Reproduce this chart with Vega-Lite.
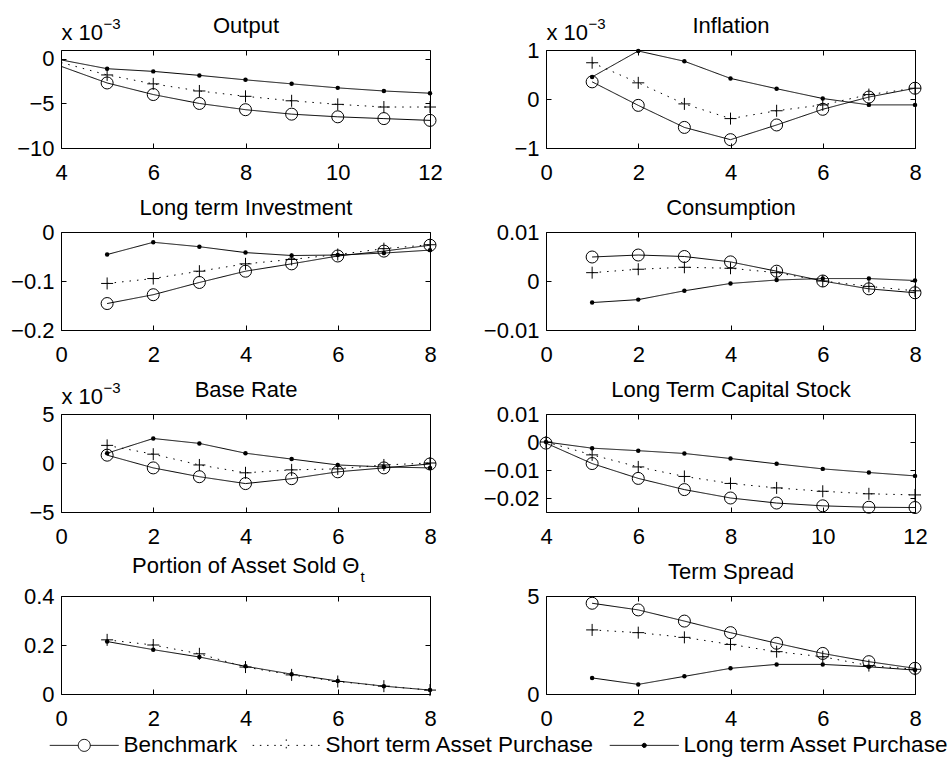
{
  "$schema": "https://vega.github.io/schema/vega-lite/v6.json",
  "padding": {"left": 10, "top": 13, "right": 0, "bottom": 0},
  "data": {"values": [
    {"panel": "Output", "x": 4, "Benchmark": -0.00083, "Short term Asset Purchase": -0.0004, "Long term Asset Purchase": -0.00011},
    {"panel": "Output", "x": 5, "Benchmark": -0.0027, "Short term Asset Purchase": -0.0018, "Long term Asset Purchase": -0.0011},
    {"panel": "Output", "x": 6, "Benchmark": -0.0040, "Short term Asset Purchase": -0.0028, "Long term Asset Purchase": -0.0014},
    {"panel": "Output", "x": 7, "Benchmark": -0.0050, "Short term Asset Purchase": -0.0036, "Long term Asset Purchase": -0.00185},
    {"panel": "Output", "x": 8, "Benchmark": -0.0057, "Short term Asset Purchase": -0.0042, "Long term Asset Purchase": -0.00235},
    {"panel": "Output", "x": 9, "Benchmark": -0.0062, "Short term Asset Purchase": -0.0047, "Long term Asset Purchase": -0.0028},
    {"panel": "Output", "x": 10, "Benchmark": -0.0065, "Short term Asset Purchase": -0.0051, "Long term Asset Purchase": -0.00325},
    {"panel": "Output", "x": 11, "Benchmark": -0.0067, "Short term Asset Purchase": -0.0054, "Long term Asset Purchase": -0.0036},
    {"panel": "Output", "x": 12, "Benchmark": -0.0069, "Short term Asset Purchase": -0.0054, "Long term Asset Purchase": -0.00385},

    {"panel": "Inflation", "x": 1, "Benchmark": 0.00035, "Short term Asset Purchase": 0.00074, "Long term Asset Purchase": 0.00045},
    {"panel": "Inflation", "x": 2, "Benchmark": -0.00013, "Short term Asset Purchase": 0.00033, "Long term Asset Purchase": 0.00098},
    {"panel": "Inflation", "x": 3, "Benchmark": -0.00058, "Short term Asset Purchase": -0.0001, "Long term Asset Purchase": 0.00077},
    {"panel": "Inflation", "x": 4, "Benchmark": -0.00083, "Short term Asset Purchase": -0.0004, "Long term Asset Purchase": 0.00042},
    {"panel": "Inflation", "x": 5, "Benchmark": -0.00053, "Short term Asset Purchase": -0.00024, "Long term Asset Purchase": 0.00021},
    {"panel": "Inflation", "x": 6, "Benchmark": -0.00021, "Short term Asset Purchase": -0.00012, "Long term Asset Purchase": 0.00001},
    {"panel": "Inflation", "x": 7, "Benchmark": 0.00004, "Short term Asset Purchase": 0.00009, "Long term Asset Purchase": -0.00012},
    {"panel": "Inflation", "x": 8, "Benchmark": 0.00022, "Short term Asset Purchase": 0.00022, "Long term Asset Purchase": -0.00012},

    {"panel": "Investment", "x": 1, "Benchmark": -0.146, "Short term Asset Purchase": -0.105, "Long term Asset Purchase": -0.046},
    {"panel": "Investment", "x": 2, "Benchmark": -0.128, "Short term Asset Purchase": -0.095, "Long term Asset Purchase": -0.021},
    {"panel": "Investment", "x": 3, "Benchmark": -0.103, "Short term Asset Purchase": -0.080, "Long term Asset Purchase": -0.030},
    {"panel": "Investment", "x": 4, "Benchmark": -0.080, "Short term Asset Purchase": -0.065, "Long term Asset Purchase": -0.042},
    {"panel": "Investment", "x": 5, "Benchmark": -0.065, "Short term Asset Purchase": -0.056, "Long term Asset Purchase": -0.048},
    {"panel": "Investment", "x": 6, "Benchmark": -0.049, "Short term Asset Purchase": -0.046, "Long term Asset Purchase": -0.047},
    {"panel": "Investment", "x": 7, "Benchmark": -0.039, "Short term Asset Purchase": -0.034, "Long term Asset Purchase": -0.043},
    {"panel": "Investment", "x": 8, "Benchmark": -0.027, "Short term Asset Purchase": -0.026, "Long term Asset Purchase": -0.037},

    {"panel": "Consumption", "x": 1, "Benchmark": 0.0049, "Short term Asset Purchase": 0.0017, "Long term Asset Purchase": -0.0044},
    {"panel": "Consumption", "x": 2, "Benchmark": 0.0053, "Short term Asset Purchase": 0.0024, "Long term Asset Purchase": -0.0038},
    {"panel": "Consumption", "x": 3, "Benchmark": 0.0050, "Short term Asset Purchase": 0.0028, "Long term Asset Purchase": -0.0020},
    {"panel": "Consumption", "x": 4, "Benchmark": 0.0039, "Short term Asset Purchase": 0.0026, "Long term Asset Purchase": -0.0005},
    {"panel": "Consumption", "x": 5, "Benchmark": 0.0020, "Short term Asset Purchase": 0.0017, "Long term Asset Purchase": 0.0002},
    {"panel": "Consumption", "x": 6, "Benchmark": 0.0000, "Short term Asset Purchase": 0.0000, "Long term Asset Purchase": 0.0005},
    {"panel": "Consumption", "x": 7, "Benchmark": -0.0016, "Short term Asset Purchase": -0.0011, "Long term Asset Purchase": 0.0005},
    {"panel": "Consumption", "x": 8, "Benchmark": -0.0024, "Short term Asset Purchase": -0.0020, "Long term Asset Purchase": 0.0001},

    {"panel": "Base Rate", "x": 1, "Benchmark": 0.0008, "Short term Asset Purchase": 0.0018, "Long term Asset Purchase": 0.0010},
    {"panel": "Base Rate", "x": 2, "Benchmark": -0.0005, "Short term Asset Purchase": 0.0009, "Long term Asset Purchase": 0.0025},
    {"panel": "Base Rate", "x": 3, "Benchmark": -0.0014, "Short term Asset Purchase": -0.0002, "Long term Asset Purchase": 0.0020},
    {"panel": "Base Rate", "x": 4, "Benchmark": -0.0021, "Short term Asset Purchase": -0.0010, "Long term Asset Purchase": 0.0010},
    {"panel": "Base Rate", "x": 5, "Benchmark": -0.0016, "Short term Asset Purchase": -0.0007, "Long term Asset Purchase": 0.0004},
    {"panel": "Base Rate", "x": 6, "Benchmark": -0.0009, "Short term Asset Purchase": -0.0006, "Long term Asset Purchase": -0.0002},
    {"panel": "Base Rate", "x": 7, "Benchmark": -0.0005, "Short term Asset Purchase": -0.0002, "Long term Asset Purchase": -0.0004},
    {"panel": "Base Rate", "x": 8, "Benchmark": -0.0001, "Short term Asset Purchase": 0.0000, "Long term Asset Purchase": -0.0005},

    {"panel": "Capital", "x": 4, "Benchmark": -0.0004, "Short term Asset Purchase": 0.0, "Long term Asset Purchase": 0.0},
    {"panel": "Capital", "x": 5, "Benchmark": -0.0077, "Short term Asset Purchase": -0.0046, "Long term Asset Purchase": -0.0022},
    {"panel": "Capital", "x": 6, "Benchmark": -0.0130, "Short term Asset Purchase": -0.0089, "Long term Asset Purchase": -0.0031},
    {"panel": "Capital", "x": 7, "Benchmark": -0.0170, "Short term Asset Purchase": -0.0123, "Long term Asset Purchase": -0.0041},
    {"panel": "Capital", "x": 8, "Benchmark": -0.0200, "Short term Asset Purchase": -0.0148, "Long term Asset Purchase": -0.0059},
    {"panel": "Capital", "x": 9, "Benchmark": -0.0218, "Short term Asset Purchase": -0.0164, "Long term Asset Purchase": -0.0078},
    {"panel": "Capital", "x": 10, "Benchmark": -0.0228, "Short term Asset Purchase": -0.0176, "Long term Asset Purchase": -0.0096},
    {"panel": "Capital", "x": 11, "Benchmark": -0.0233, "Short term Asset Purchase": -0.0185, "Long term Asset Purchase": -0.0109},
    {"panel": "Capital", "x": 12, "Benchmark": -0.0234, "Short term Asset Purchase": -0.0189, "Long term Asset Purchase": -0.0121},

    {"panel": "Portion", "x": 1, "Benchmark": null, "Short term Asset Purchase": 0.221, "Long term Asset Purchase": 0.214},
    {"panel": "Portion", "x": 2, "Benchmark": null, "Short term Asset Purchase": 0.200, "Long term Asset Purchase": 0.181},
    {"panel": "Portion", "x": 3, "Benchmark": null, "Short term Asset Purchase": 0.164, "Long term Asset Purchase": 0.151},
    {"panel": "Portion", "x": 4, "Benchmark": null, "Short term Asset Purchase": 0.110, "Long term Asset Purchase": 0.113},
    {"panel": "Portion", "x": 5, "Benchmark": null, "Short term Asset Purchase": 0.078, "Long term Asset Purchase": 0.081},
    {"panel": "Portion", "x": 6, "Benchmark": null, "Short term Asset Purchase": 0.051, "Long term Asset Purchase": 0.053},
    {"panel": "Portion", "x": 7, "Benchmark": null, "Short term Asset Purchase": 0.032, "Long term Asset Purchase": 0.032},
    {"panel": "Portion", "x": 8, "Benchmark": null, "Short term Asset Purchase": 0.016, "Long term Asset Purchase": 0.016},

    {"panel": "Term Spread", "x": 1, "Benchmark": 4.63, "Short term Asset Purchase": 3.27, "Long term Asset Purchase": 0.82},
    {"panel": "Term Spread", "x": 2, "Benchmark": 4.29, "Short term Asset Purchase": 3.13, "Long term Asset Purchase": 0.49},
    {"panel": "Term Spread", "x": 3, "Benchmark": 3.72, "Short term Asset Purchase": 2.89, "Long term Asset Purchase": 0.90},
    {"panel": "Term Spread", "x": 4, "Benchmark": 3.13, "Short term Asset Purchase": 2.53, "Long term Asset Purchase": 1.31},
    {"panel": "Term Spread", "x": 5, "Benchmark": 2.59, "Short term Asset Purchase": 2.16, "Long term Asset Purchase": 1.51},
    {"panel": "Term Spread", "x": 6, "Benchmark": 2.07, "Short term Asset Purchase": 1.90, "Long term Asset Purchase": 1.51},
    {"panel": "Term Spread", "x": 7, "Benchmark": 1.65, "Short term Asset Purchase": 1.45, "Long term Asset Purchase": 1.39},
    {"panel": "Term Spread", "x": 8, "Benchmark": 1.31, "Short term Asset Purchase": 1.26, "Long term Asset Purchase": 1.22}
  ]},
  "transform": [
    {"fold": ["Benchmark", "Short term Asset Purchase", "Long term Asset Purchase"], "as": ["series", "value"]},
    {"filter": "isValid(datum.value)"}
  ],
  "columns": 2,
  "spacing": {"row": 84, "column": 116},
  "bounds": "flush",
  "concat": [
    {
      "width": 369, "height": 98,
      "transform": [{"filter": "datum.panel === 'Output'"}],
      "layer": [
        {"mark": {"type": "line", "strokeWidth": 1},
         "encoding": {
           "x": {"field": "x", "type": "quantitative", "scale": {"domain": [4, 12], "nice": false, "zero": false}, "axis": {"orient": "bottom", "values": [4, 6, 8, 10, 12], "format": "~g", "title": null}},
           "y": {"field": "value", "type": "quantitative", "scale": {"domain": [-0.01, 0.001], "nice": false, "zero": false}, "axis": {"orient": "left", "values": [-0.01, -0.005, 0], "labelExpr": "format(datum.value*1000, '~g')", "title": "x 10", "titleX": 0, "titleY": -11, "titleAngle": 0, "titleAlign": "left", "titleBaseline": "alphabetic"}},
           "strokeDash": {"field": "series", "type": "nominal", "scale": {"domain": ["Benchmark", "Short term Asset Purchase", "Long term Asset Purchase"], "range": [[1, 0], [1.5, 6], [1, 0]]}, "legend": null},
           "color": {"field": "series", "type": "nominal", "scale": {"domain": ["Benchmark", "Short term Asset Purchase", "Long term Asset Purchase"], "range": ["black", "black", "black"]},
             "legend": {"orient": "none", "legendX": 12, "legendY": 684, "direction": "horizontal", "columns": 3, "title": null, "padding": 0,
               "symbolSize": 144, "symbolType": "circle", "labelFontSize": 22.5, "labelColor": "black", "labelLimit": 600, "labelOffset": 28, "columnPadding": 12,
               "encode": {"symbols": {"update": {
                 "shape": {"signal": "datum.value === 'Benchmark' ? 'M-5.75,0H-1M1,0H5.75M-1,0C-1,-0.552,-0.552,-1,0,-1C0.552,-1,1,-0.552,1,0C1,0.552,0.552,1,0,1C-0.552,1,-1,0.552,-1,0Z' : datum.value === 'Short term Asset Purchase' ? 'M-5.6,0H-5.3M-4.4,0H-4.1M-3.2,0H-2.9M-2,0H-1.7M-1,0H1M0,-1V1M1.7,0H2M2.9,0H3.2M4.1,0H4.4M5.3,0H5.6' : 'M-5.75,0H5.75M-0.35,0C-0.35,-0.193,-0.193,-0.35,0,-0.35C0.193,-0.35,0.35,-0.193,0.35,0C0.35,0.193,0.193,0.35,0,0.35C-0.193,0.35,-0.35,0.193,-0.35,0Z'"},
                 "fill": {"signal": "datum.value === 'Long term Asset Purchase' ? 'black' : 'transparent'"},
                 "stroke": {"value": "black"},
                 "strokeWidth": {"value": 1},
                 "opacity": {"value": 1}
               }}}}}
         }},
        {"mark": {"type": "point", "filled": false, "opacity": 1, "strokeWidth": 1, "color": "black", "size": 144},
         "transform": [{"filter": "datum.series !== 'Long term Asset Purchase' && datum.x >= 5"}],
         "encoding": {
           "x": {"field": "x", "type": "quantitative", "scale": {"domain": [4, 12], "nice": false, "zero": false}, "axis": {"orient": "top", "values": [4, 6, 8, 10, 12], "labels": false, "title": "Output", "titleX": 184.5, "titleY": -18, "titleAlign": "center", "titleBaseline": "alphabetic"}},
           "y": {"field": "value", "type": "quantitative", "scale": {"domain": [-0.01, 0.001], "nice": false, "zero": false}, "axis": {"orient": "right", "values": [-0.01, -0.005, 0], "labels": false, "title": "−3", "titleX": -327, "titleY": -22, "titleAngle": 0, "titleAlign": "left", "titleBaseline": "alphabetic", "titleFontSize": 15}},
           "shape": {"field": "series", "type": "nominal", "scale": {"domain": ["Benchmark", "Short term Asset Purchase"], "range": ["circle", "M-1,0H1M0,-1V1"]}, "legend": null}
         }},
        {"mark": {"type": "point", "filled": true, "opacity": 1, "color": "black", "size": 20},
         "transform": [{"filter": "datum.series === 'Long term Asset Purchase' && datum.x >= 5"}],
         "encoding": {
           "x": {"field": "x", "type": "quantitative", "axis": null},
           "y": {"field": "value", "type": "quantitative", "axis": null}
         }}
      ],
      "resolve": {"axis": {"x": "independent", "y": "independent"}}
    },
    {
      "width": 369, "height": 98,
      "transform": [{"filter": "datum.panel === 'Inflation'"}],
      "layer": [
        {"mark": {"type": "line", "strokeWidth": 1, "color": "black"},
         "encoding": {
           "x": {"field": "x", "type": "quantitative", "scale": {"domain": [0, 8], "nice": false, "zero": false}, "axis": {"orient": "bottom", "values": [0, 2, 4, 6, 8], "format": "~g", "title": null}},
           "y": {"field": "value", "type": "quantitative", "scale": {"domain": [-0.001, 0.001], "nice": false, "zero": false}, "axis": {"orient": "left", "values": [-0.001, 0, 0.001], "labelExpr": "format(datum.value*1000, '~g')", "title": "x 10", "titleX": 0, "titleY": -11, "titleAngle": 0, "titleAlign": "left", "titleBaseline": "alphabetic"}},
           "strokeDash": {"field": "series", "type": "nominal", "scale": {"domain": ["Benchmark", "Short term Asset Purchase", "Long term Asset Purchase"], "range": [[1, 0], [1.5, 6], [1, 0]]}, "legend": null}
         }},
        {"mark": {"type": "point", "filled": false, "opacity": 1, "strokeWidth": 1, "color": "black", "size": 144},
         "transform": [{"filter": "datum.series !== 'Long term Asset Purchase'"}],
         "encoding": {
           "x": {"field": "x", "type": "quantitative", "scale": {"domain": [0, 8], "nice": false, "zero": false}, "axis": {"orient": "top", "values": [0, 2, 4, 6, 8], "labels": false, "title": "Inflation", "titleX": 184.5, "titleY": -18, "titleAlign": "center", "titleBaseline": "alphabetic"}},
           "y": {"field": "value", "type": "quantitative", "scale": {"domain": [-0.001, 0.001], "nice": false, "zero": false}, "axis": {"orient": "right", "values": [-0.001, 0, 0.001], "labels": false, "title": "−3", "titleX": -327, "titleY": -22, "titleAngle": 0, "titleAlign": "left", "titleBaseline": "alphabetic", "titleFontSize": 15}},
           "shape": {"field": "series", "type": "nominal", "scale": {"domain": ["Benchmark", "Short term Asset Purchase"], "range": ["circle", "M-1,0H1M0,-1V1"]}, "legend": null}
         }},
        {"mark": {"type": "point", "filled": true, "opacity": 1, "color": "black", "size": 20},
         "transform": [{"filter": "datum.series === 'Long term Asset Purchase'"}],
         "encoding": {
           "x": {"field": "x", "type": "quantitative", "axis": null},
           "y": {"field": "value", "type": "quantitative", "axis": null}
         }}
      ],
      "resolve": {"axis": {"x": "independent", "y": "independent"}}
    },
    {
      "width": 369, "height": 98,
      "transform": [{"filter": "datum.panel === 'Investment'"}],
      "layer": [
        {"mark": {"type": "line", "strokeWidth": 1, "color": "black"},
         "encoding": {
           "x": {"field": "x", "type": "quantitative", "scale": {"domain": [0, 8], "nice": false, "zero": false}, "axis": {"orient": "bottom", "values": [0, 2, 4, 6, 8], "format": "~g", "title": null}},
           "y": {"field": "value", "type": "quantitative", "scale": {"domain": [-0.2, 0], "nice": false, "zero": false}, "axis": {"orient": "left", "values": [-0.2, -0.1, 0], "format": "~g", "title": null}},
           "strokeDash": {"field": "series", "type": "nominal", "scale": {"domain": ["Benchmark", "Short term Asset Purchase", "Long term Asset Purchase"], "range": [[1, 0], [1.5, 6], [1, 0]]}, "legend": null}
         }},
        {"mark": {"type": "point", "filled": false, "opacity": 1, "strokeWidth": 1, "color": "black", "size": 144},
         "transform": [{"filter": "datum.series !== 'Long term Asset Purchase'"}],
         "encoding": {
           "x": {"field": "x", "type": "quantitative", "scale": {"domain": [0, 8], "nice": false, "zero": false}, "axis": {"orient": "top", "values": [0, 2, 4, 6, 8], "labels": false, "title": "Long term Investment", "titleX": 184.5, "titleY": -18, "titleAlign": "center", "titleBaseline": "alphabetic"}},
           "y": {"field": "value", "type": "quantitative", "scale": {"domain": [-0.2, 0], "nice": false, "zero": false}, "axis": {"orient": "right", "values": [-0.2, -0.1, 0], "labels": false, "title": null}},
           "shape": {"field": "series", "type": "nominal", "scale": {"domain": ["Benchmark", "Short term Asset Purchase"], "range": ["circle", "M-1,0H1M0,-1V1"]}, "legend": null}
         }},
        {"mark": {"type": "point", "filled": true, "opacity": 1, "color": "black", "size": 20},
         "transform": [{"filter": "datum.series === 'Long term Asset Purchase'"}],
         "encoding": {
           "x": {"field": "x", "type": "quantitative", "axis": null},
           "y": {"field": "value", "type": "quantitative", "axis": null}
         }}
      ],
      "resolve": {"axis": {"x": "independent", "y": "independent"}}
    },
    {
      "width": 369, "height": 98,
      "transform": [{"filter": "datum.panel === 'Consumption'"}],
      "layer": [
        {"mark": {"type": "line", "strokeWidth": 1, "color": "black"},
         "encoding": {
           "x": {"field": "x", "type": "quantitative", "scale": {"domain": [0, 8], "nice": false, "zero": false}, "axis": {"orient": "bottom", "values": [0, 2, 4, 6, 8], "format": "~g", "title": null}},
           "y": {"field": "value", "type": "quantitative", "scale": {"domain": [-0.01, 0.01], "nice": false, "zero": false}, "axis": {"orient": "left", "values": [-0.01, 0, 0.01], "format": "~g", "title": null}},
           "strokeDash": {"field": "series", "type": "nominal", "scale": {"domain": ["Benchmark", "Short term Asset Purchase", "Long term Asset Purchase"], "range": [[1, 0], [1.5, 6], [1, 0]]}, "legend": null}
         }},
        {"mark": {"type": "point", "filled": false, "opacity": 1, "strokeWidth": 1, "color": "black", "size": 144},
         "transform": [{"filter": "datum.series !== 'Long term Asset Purchase'"}],
         "encoding": {
           "x": {"field": "x", "type": "quantitative", "scale": {"domain": [0, 8], "nice": false, "zero": false}, "axis": {"orient": "top", "values": [0, 2, 4, 6, 8], "labels": false, "title": "Consumption", "titleX": 184.5, "titleY": -18, "titleAlign": "center", "titleBaseline": "alphabetic"}},
           "y": {"field": "value", "type": "quantitative", "scale": {"domain": [-0.01, 0.01], "nice": false, "zero": false}, "axis": {"orient": "right", "values": [-0.01, 0, 0.01], "labels": false, "title": null}},
           "shape": {"field": "series", "type": "nominal", "scale": {"domain": ["Benchmark", "Short term Asset Purchase"], "range": ["circle", "M-1,0H1M0,-1V1"]}, "legend": null}
         }},
        {"mark": {"type": "point", "filled": true, "opacity": 1, "color": "black", "size": 20},
         "transform": [{"filter": "datum.series === 'Long term Asset Purchase'"}],
         "encoding": {
           "x": {"field": "x", "type": "quantitative", "axis": null},
           "y": {"field": "value", "type": "quantitative", "axis": null}
         }}
      ],
      "resolve": {"axis": {"x": "independent", "y": "independent"}}
    },
    {
      "width": 369, "height": 98,
      "transform": [{"filter": "datum.panel === 'Base Rate'"}],
      "layer": [
        {"mark": {"type": "line", "strokeWidth": 1, "color": "black"},
         "encoding": {
           "x": {"field": "x", "type": "quantitative", "scale": {"domain": [0, 8], "nice": false, "zero": false}, "axis": {"orient": "bottom", "values": [0, 2, 4, 6, 8], "format": "~g", "title": null}},
           "y": {"field": "value", "type": "quantitative", "scale": {"domain": [-0.005, 0.005], "nice": false, "zero": false}, "axis": {"orient": "left", "values": [-0.005, 0, 0.005], "labelExpr": "format(datum.value*1000, '~g')", "title": "x 10", "titleX": 0, "titleY": -11, "titleAngle": 0, "titleAlign": "left", "titleBaseline": "alphabetic"}},
           "strokeDash": {"field": "series", "type": "nominal", "scale": {"domain": ["Benchmark", "Short term Asset Purchase", "Long term Asset Purchase"], "range": [[1, 0], [1.5, 6], [1, 0]]}, "legend": null}
         }},
        {"mark": {"type": "point", "filled": false, "opacity": 1, "strokeWidth": 1, "color": "black", "size": 144},
         "transform": [{"filter": "datum.series !== 'Long term Asset Purchase'"}],
         "encoding": {
           "x": {"field": "x", "type": "quantitative", "scale": {"domain": [0, 8], "nice": false, "zero": false}, "axis": {"orient": "top", "values": [0, 2, 4, 6, 8], "labels": false, "title": "Base Rate", "titleX": 184.5, "titleY": -18, "titleAlign": "center", "titleBaseline": "alphabetic"}},
           "y": {"field": "value", "type": "quantitative", "scale": {"domain": [-0.005, 0.005], "nice": false, "zero": false}, "axis": {"orient": "right", "values": [-0.005, 0, 0.005], "labels": false, "title": "−3", "titleX": -327, "titleY": -22, "titleAngle": 0, "titleAlign": "left", "titleBaseline": "alphabetic", "titleFontSize": 15}},
           "shape": {"field": "series", "type": "nominal", "scale": {"domain": ["Benchmark", "Short term Asset Purchase"], "range": ["circle", "M-1,0H1M0,-1V1"]}, "legend": null}
         }},
        {"mark": {"type": "point", "filled": true, "opacity": 1, "color": "black", "size": 20},
         "transform": [{"filter": "datum.series === 'Long term Asset Purchase'"}],
         "encoding": {
           "x": {"field": "x", "type": "quantitative", "axis": null},
           "y": {"field": "value", "type": "quantitative", "axis": null}
         }}
      ],
      "resolve": {"axis": {"x": "independent", "y": "independent"}}
    },
    {
      "width": 369, "height": 98,
      "transform": [{"filter": "datum.panel === 'Capital'"}],
      "layer": [
        {"mark": {"type": "line", "strokeWidth": 1, "color": "black"},
         "encoding": {
           "x": {"field": "x", "type": "quantitative", "scale": {"domain": [4, 12], "nice": false, "zero": false}, "axis": {"orient": "bottom", "values": [4, 6, 8, 10, 12], "format": "~g", "title": null}},
           "y": {"field": "value", "type": "quantitative", "scale": {"domain": [-0.025, 0.01], "nice": false, "zero": false}, "axis": {"orient": "left", "values": [-0.02, -0.01, 0, 0.01], "format": "~g", "title": null}},
           "strokeDash": {"field": "series", "type": "nominal", "scale": {"domain": ["Benchmark", "Short term Asset Purchase", "Long term Asset Purchase"], "range": [[1, 0], [1.5, 6], [1, 0]]}, "legend": null}
         }},
        {"mark": {"type": "point", "filled": false, "opacity": 1, "strokeWidth": 1, "color": "black", "size": 144},
         "transform": [{"filter": "datum.series !== 'Long term Asset Purchase'"}],
         "encoding": {
           "x": {"field": "x", "type": "quantitative", "scale": {"domain": [4, 12], "nice": false, "zero": false}, "axis": {"orient": "top", "values": [4, 6, 8, 10, 12], "labels": false, "title": "Long Term Capital Stock", "titleX": 184.5, "titleY": -18, "titleAlign": "center", "titleBaseline": "alphabetic"}},
           "y": {"field": "value", "type": "quantitative", "scale": {"domain": [-0.025, 0.01], "nice": false, "zero": false}, "axis": {"orient": "right", "values": [-0.02, -0.01, 0, 0.01], "labels": false, "title": null}},
           "shape": {"field": "series", "type": "nominal", "scale": {"domain": ["Benchmark", "Short term Asset Purchase"], "range": ["circle", "M-1,0H1M0,-1V1"]}, "legend": null}
         }},
        {"mark": {"type": "point", "filled": true, "opacity": 1, "color": "black", "size": 20},
         "transform": [{"filter": "datum.series === 'Long term Asset Purchase'"}],
         "encoding": {
           "x": {"field": "x", "type": "quantitative", "axis": null},
           "y": {"field": "value", "type": "quantitative", "axis": null}
         }}
      ],
      "resolve": {"axis": {"x": "independent", "y": "independent"}}
    },
    {
      "width": 369, "height": 98,
      "transform": [{"filter": "datum.panel === 'Portion'"}],
      "layer": [
        {"mark": {"type": "line", "strokeWidth": 1, "color": "black"},
         "encoding": {
           "x": {"field": "x", "type": "quantitative", "scale": {"domain": [0, 8], "nice": false, "zero": false}, "axis": {"orient": "bottom", "values": [0, 2, 4, 6, 8], "format": "~g", "title": null}},
           "y": {"field": "value", "type": "quantitative", "scale": {"domain": [0, 0.4], "nice": false, "zero": false}, "axis": {"orient": "left", "values": [0, 0.2, 0.4], "format": "~g", "title": null}},
           "strokeDash": {"field": "series", "type": "nominal", "scale": {"domain": ["Benchmark", "Short term Asset Purchase", "Long term Asset Purchase"], "range": [[1, 0], [1.5, 6], [1, 0]]}, "legend": null}
         }},
        {"mark": {"type": "point", "filled": false, "opacity": 1, "strokeWidth": 1, "color": "black", "size": 144},
         "transform": [{"filter": "datum.series !== 'Long term Asset Purchase'"}],
         "encoding": {
           "x": {"field": "x", "type": "quantitative", "scale": {"domain": [0, 8], "nice": false, "zero": false}, "axis": {"orient": "top", "values": [0, 2, 4, 6, 8], "labels": false, "title": "Portion of Asset Sold Θ", "titleX": 298, "titleY": -24, "titleAlign": "right", "titleBaseline": "alphabetic"}},
           "y": {"field": "value", "type": "quantitative", "scale": {"domain": [0, 0.4], "nice": false, "zero": false}, "axis": {"orient": "right", "values": [0, 0.2, 0.4], "labels": false, "title": "t", "titleX": -70, "titleY": -15, "titleAngle": 0, "titleAlign": "left", "titleBaseline": "alphabetic", "titleFontSize": 15}},
           "shape": {"field": "series", "type": "nominal", "scale": {"domain": ["Benchmark", "Short term Asset Purchase"], "range": ["circle", "M-1,0H1M0,-1V1"]}, "legend": null}
         }},
        {"mark": {"type": "point", "filled": true, "opacity": 1, "color": "black", "size": 20},
         "transform": [{"filter": "datum.series === 'Long term Asset Purchase'"}],
         "encoding": {
           "x": {"field": "x", "type": "quantitative", "axis": null},
           "y": {"field": "value", "type": "quantitative", "axis": null}
         }}
      ],
      "resolve": {"axis": {"x": "independent", "y": "independent"}}
    },
    {
      "width": 369, "height": 98,
      "transform": [{"filter": "datum.panel === 'Term Spread'"}],
      "layer": [
        {"mark": {"type": "line", "strokeWidth": 1, "color": "black"},
         "encoding": {
           "x": {"field": "x", "type": "quantitative", "scale": {"domain": [0, 8], "nice": false, "zero": false}, "axis": {"orient": "bottom", "values": [0, 2, 4, 6, 8], "format": "~g", "title": null}},
           "y": {"field": "value", "type": "quantitative", "scale": {"domain": [0, 5], "nice": false, "zero": false}, "axis": {"orient": "left", "values": [0, 5], "format": "~g", "title": null}},
           "strokeDash": {"field": "series", "type": "nominal", "scale": {"domain": ["Benchmark", "Short term Asset Purchase", "Long term Asset Purchase"], "range": [[1, 0], [1.5, 6], [1, 0]]}, "legend": null}
         }},
        {"mark": {"type": "point", "filled": false, "opacity": 1, "strokeWidth": 1, "color": "black", "size": 144},
         "transform": [{"filter": "datum.series !== 'Long term Asset Purchase'"}],
         "encoding": {
           "x": {"field": "x", "type": "quantitative", "scale": {"domain": [0, 8], "nice": false, "zero": false}, "axis": {"orient": "top", "values": [0, 2, 4, 6, 8], "labels": false, "title": "Term Spread", "titleX": 184.5, "titleY": -18, "titleAlign": "center", "titleBaseline": "alphabetic"}},
           "y": {"field": "value", "type": "quantitative", "scale": {"domain": [0, 5], "nice": false, "zero": false}, "axis": {"orient": "right", "values": [0, 5], "labels": false, "title": null}},
           "shape": {"field": "series", "type": "nominal", "scale": {"domain": ["Benchmark", "Short term Asset Purchase"], "range": ["circle", "M-1,0H1M0,-1V1"]}, "legend": null}
         }},
        {"mark": {"type": "point", "filled": true, "opacity": 1, "color": "black", "size": 20},
         "transform": [{"filter": "datum.series === 'Long term Asset Purchase'"}],
         "encoding": {
           "x": {"field": "x", "type": "quantitative", "axis": null},
           "y": {"field": "value", "type": "quantitative", "axis": null}
         }}
      ],
      "resolve": {"axis": {"x": "independent", "y": "independent"}}
    }
  ],
  "config": {
    "font": "Liberation Sans",
    "view": {"stroke": "black", "strokeWidth": 1},
    "axis": {"grid": false, "domain": false, "ticks": true, "tickColor": "black", "tickSize": -5, "tickWidth": 1, "labelColor": "black", "labelFontSize": 22, "labelFlush": false, "labelOverlap": false, "labelBound": false, "titleColor": "black", "titleFontSize": 22, "titleFontWeight": "normal", "titlePadding": 0},
    "axisX": {"labelPadding": 19},
    "axisY": {"labelPadding": 12}
  }
}
